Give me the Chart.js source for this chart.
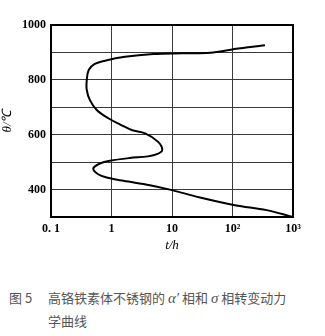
<!DOCTYPE html>
<html>
<head>
<meta charset="utf-8">
<script src="https://cdn.jsdelivr.net/npm/chart.js@4/dist/chart.umd.min.js"></script>
<style>
  html, body { margin: 0; padding: 0; background: #fff; }
  body { width: 325px; height: 336px; position: relative; overflow: hidden; }
  #wrap { position: absolute; left: 0; top: 0; width: 325px; height: 255px; }
  .cap { position: absolute; font-family: "Noto Sans CJK SC", sans-serif; font-size: 13px; color: #555; white-space: nowrap; line-height: 16px; }
  .cap i { font-family: "Liberation Serif", serif; font-size: 15px; }
</style>
</head>
<body>
<div id="wrap"><canvas id="c"></canvas></div>
<div class="cap" style="left:9px; top:290px;">图 5</div>
<div class="cap" style="left:48px; top:290px;">高铬铁素体不锈钢的 <i>α′</i> 相和 <i>σ</i> 相转变动力</div>
<div class="cap" style="left:48px; top:313px;">学曲线</div>
<script>
// Transformation curve: time (h) vs temperature (°C)
const timeHours = [344, 180, 100, 43, 15, 4.9, 1.67, 0.78, 0.53, 0.42, 0.39, 0.39, 0.44, 0.57, 0.885, 1.4, 2.16, 3.6, 5.9, 6.9, 5.8, 4.0, 2.0, 0.94, 0.645, 0.50, 0.6, 0.83, 1.57, 4.3, 10, 29, 110, 367, 1000];
const temperature = [926, 919, 911, 899, 897, 894, 884, 870, 858, 836, 799, 763, 726, 690, 660, 637, 617, 605, 574, 544, 530, 521, 515, 505, 495, 477, 456, 444, 432, 416, 398, 371, 343, 325, 300];

const xTickValues = [0.1, 1, 10, 100, 1000];
const xTickLabels = ['0. 1', '1', '10', '10²', '10³'];
const yTickLabels = [400, 600, 800, 1000];

const points = timeHours.map((t, i) => ({ x: t, y: temperature[i] }));
const tickFont = { family: '"Liberation Serif", serif', size: 12, weight: 'bold' };

new Chart(document.getElementById('c'), {
  type: 'scatter',
  data: {
    datasets: [{
      data: points,
      showLine: true,
      borderColor: '#000',
      borderWidth: 2,
      pointRadius: 0,
      tension: 0.35,
      fill: false
    }]
  },
  options: {
    responsive: true,
    maintainAspectRatio: false,
    animation: false,
    layout: { padding: { top: 25, right: 32, left: 0, bottom: 0 } },
    plugins: { legend: { display: false }, tooltip: { enabled: false } },
    scales: {
      x: {
        type: 'logarithmic',
        min: 0.1,
        max: 1000,
        afterBuildTicks: s => { s.ticks = xTickValues.map(v => ({ value: v })); },
        afterFit: s => { s.height = 38; },
        ticks: {
          autoSkip: false,
          maxRotation: 0,
          padding: 5,
          color: '#000',
          font: tickFont,
          callback: v => { const i = xTickValues.indexOf(v); return i >= 0 ? xTickLabels[i] : ''; }
        },
        grid: { color: '#3a3a3a', lineWidth: 1, drawTicks: false },
        border: { color: '#000', width: 2 },
        title: {
          display: true,
          text: 't/h',
          color: '#000',
          font: { family: '"Liberation Serif", serif', size: 13, style: 'italic' },
          padding: { top: 0, bottom: 2 }
        }
      },
      y: {
        min: 300,
        max: 1000,
        afterFit: s => { s.width = 51; },
        ticks: {
          stepSize: 100,
          padding: 5,
          color: '#000',
          font: tickFont,
          callback: v => yTickLabels.includes(v) ? String(v) : ''
        },
        grid: { color: '#3a3a3a', lineWidth: 1, drawTicks: false },
        border: { color: '#000', width: 2 },
        title: {
          display: true,
          text: 'θ/℃',
          color: '#000',
          font: { family: '"Liberation Serif", serif', size: 13, style: 'italic' },
          padding: { top: 0, bottom: 0 }
        }
      },
      x2: {
        type: 'logarithmic', position: 'top', min: 0.1, max: 1000,
        ticks: { display: false }, grid: { display: false, drawTicks: false },
        border: { color: '#000', width: 2 }
      },
      y2: {
        position: 'right', min: 300, max: 1000,
        ticks: { display: false }, grid: { display: false, drawTicks: false },
        border: { color: '#000', width: 2 }
      }
    }
  }
});
</script>
</body>
</html>
